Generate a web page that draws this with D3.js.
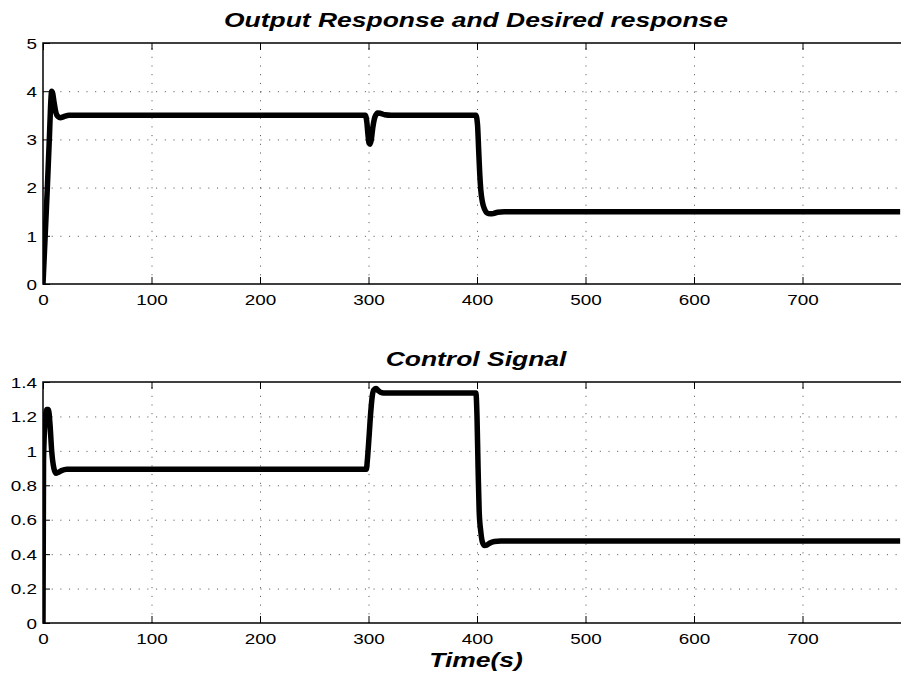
<!DOCTYPE html>
<html>
<head>
<meta charset="utf-8">
<script src="https://cdn.jsdelivr.net/npm/d3@7"></script>
<style>
body{margin:0;background:#fff;}
svg{display:block;font-family:"Liberation Sans",Arial,Helvetica,sans-serif;}
.axis path{display:none;}
.grid line{stroke:#000;stroke-opacity:0.7;stroke-dasharray:1,7.7;}
.grid path{display:none;}
</style>
</head>
<body>
<div id="chart"></div>
<script>
// output response (top)
var outTime=[0,2,4,6,7,8,9,10,12,14,16,19,24,297,298.5,299.5,300.5,301.5,302.5,304,306,308.5,311,315,321,399,400.5,401.5,402.5,403.5,405,407,409.5,412,415,419,425,790];
var outValue=[0,1.0,2.0,3.1,3.7,4.0,3.95,3.8,3.55,3.47,3.45,3.47,3.5,3.5,3.35,3.1,2.92,2.9,2.98,3.25,3.47,3.55,3.54,3.51,3.5,3.5,3.3,2.8,2.3,1.95,1.7,1.55,1.47,1.455,1.46,1.49,1.5,1.5];

// control signal (bottom)
var ctlTime=[0,0.5,2,3.5,5,6.5,8,10,12,14,17,22,298,299,300.5,302,303.5,305,307,309,311,314,319,399,400,401,402,403.5,405,407,409,412,416,422,790];
var ctlValue=[0,0.95,1.18,1.24,1.24,1.15,1.0,0.9,0.87,0.875,0.885,0.893,0.893,0.95,1.08,1.22,1.32,1.355,1.362,1.35,1.34,1.336,1.336,1.336,1.2,0.9,0.65,0.53,0.47,0.45,0.452,0.465,0.473,0.476,0.476];

var xTicks=[0,100,200,300,400,500,600,700];
var outTicks=[0,1,2,3,4,5];
var ctlTicks=[0,0.2,0.4,0.6,0.8,1,1.2,1.4];
var outTitle="Output Response and Desired response";
var ctlTitle="Control Signal";
var xLabel="Time(s)";

var width=901;
var height=675;
var left=43;
var plotW=868;
var plotH=241;
var stretch=1.26;

var svg=d3.select("#chart")
    .append("svg")
    .attr("width",width)
    .attr("height",height);

svg.append("rect").attr("width",width).attr("height",height).attr("fill","#fff");

var xScale=d3.scaleLinear()
    .domain([0,800])
    .range([0,plotW]);

function drawpanel(top,yMax,yTicks,tt,vv,title,id){
  var yScale=d3.scaleLinear()
      .domain([0,yMax])
      .range([plotH,0]);

  var g=svg.append("g")
      .attr("transform","translate("+left+","+top+")");

  g.append("clipPath").attr("id",id)
    .append("rect").attr("width",plotW).attr("height",plotH);

  // dotted grid
  g.append("g")
    .attr("class","grid")
    .call(d3.axisBottom(xScale)
      .tickValues(xTicks.slice(1))
      .tickSize(-plotH)
      .tickFormat(""))
    .attr("transform","translate(0,"+plotH+")");
  g.append("g")
    .attr("class","grid")
    .call(d3.axisLeft(yScale)
      .tickValues(yTicks.slice(1,-1))
      .tickSize(-plotW)
      .tickFormat(""));

  // data line
  var pts=tt.map(function(d,i){return [d,vv[i]];});
  var line=d3.line()
      .x(function(d){return xScale(d[0]);})
      .y(function(d){return yScale(d[1]);})
      .curve(d3.curveMonotoneX);
  g.append("path")
    .datum(pts)
    .attr("clip-path","url(#"+id+")")
    .attr("fill","none")
    .attr("stroke","#000")
    .attr("stroke-width",5.5)
    .attr("stroke-linejoin","round")
    .attr("d",line);

  // box
  g.append("rect")
    .attr("width",plotW)
    .attr("height",plotH)
    .attr("fill","none")
    .attr("stroke","#000")
    .attr("stroke-width",1.5);

  // inward ticks
  g.append("g").call(d3.axisBottom(xScale).tickValues(xTicks).tickSize(-7).tickFormat(""))
    .attr("transform","translate(0,"+plotH+")");
  g.append("g").call(d3.axisTop(xScale).tickValues(xTicks).tickSize(-7).tickFormat(""));
  g.append("g").call(d3.axisLeft(yScale).tickValues(yTicks).tickSize(-7).tickFormat(""));
  g.selectAll(".tick line").attr("stroke","#000").attr("stroke-width",1);
  g.selectAll(".domain").remove();

  // tick labels
  g.append("g")
    .attr("class","axis")
    .attr("transform","translate(0,"+plotH+")")
    .call(d3.axisBottom(xScale).tickValues(xTicks).tickSize(0))
    .selectAll("text")
    .attr("y",null).attr("dy",null)
    .attr("transform","translate(0,21) scale("+stretch+",1)");
  g.append("g")
    .attr("class","axis")
    .call(d3.axisLeft(yScale).tickValues(yTicks).tickSize(0).tickFormat(d3.format("")))
    .selectAll("text")
    .attr("x",null).attr("dy","0.35em")
    .attr("transform","translate(-6,0) scale("+stretch+",1)");
  g.selectAll(".axis text")
    .attr("font-family","Liberation Sans, Arial, sans-serif")
    .attr("font-size",15)
    .attr("fill","#000");

  g.append("text")
    .attr("text-anchor","middle")
    .attr("font-size",21)
    .attr("font-weight","bold")
    .attr("font-style","italic")
    .attr("transform","translate("+(xScale(400)-1)+",-16) scale("+stretch+",1)")
    .text(title);
  return g;
}

drawpanel(43,5,outTicks,outTime,outValue,outTitle,"clipTop");
var g2=drawpanel(382,1.4,ctlTicks,ctlTime,ctlValue,ctlTitle,"clipBottom");

g2.append("text")
  .attr("text-anchor","middle")
  .attr("font-size",21)
  .attr("font-weight","bold")
  .attr("font-style","italic")
  .attr("transform","translate("+(xScale(400)-1)+","+(plotH+44)+") scale("+stretch+",1)")
  .text(xLabel);
</script>
</body>
</html>
